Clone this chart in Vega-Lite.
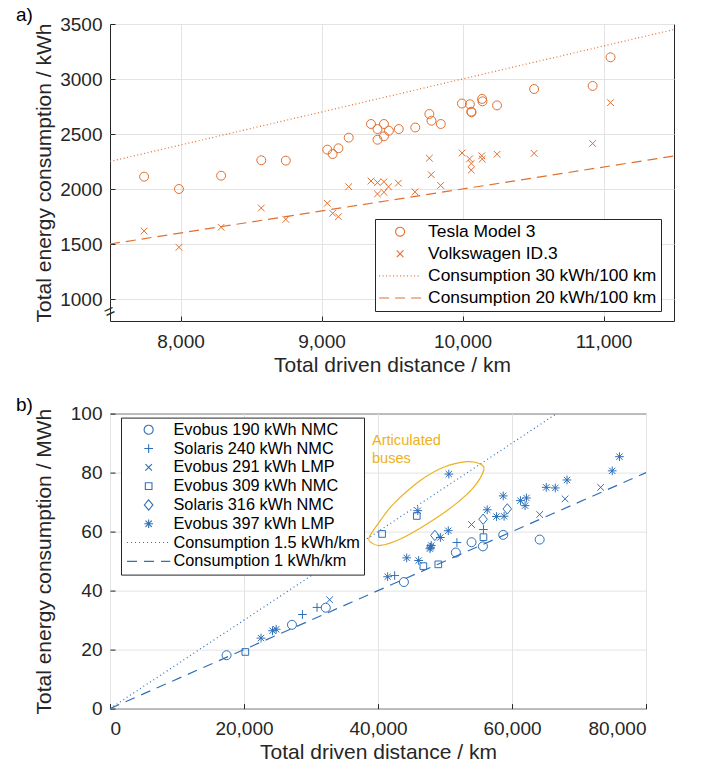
{
  "$schema": "https://vega.github.io/schema/vega-lite/v6.json",
  "padding": {"left": 15, "top": 5, "right": 5, "bottom": 2},
  "spacing": 18.6,
  "resolve": {"scale": {"shape": "independent", "strokeDash": "independent"}, "legend": {"shape": "independent", "strokeDash": "independent"}},
  "config": {
    "font": "Liberation Sans",
    "view": {"stroke": "#262626", "strokeWidth": 1},
    "axis": {"grid": true, "gridColor": "#E3E3E3", "gridWidth": 1, "domain": false, "ticks": true, "tickSize": -5, "tickColor": "#262626", "labelFontSize": 19, "labelColor": "#262626", "titleFontSize": 21, "titleFontWeight": "normal", "titleColor": "#262626"},
    "axisY": {"minExtent": 48, "maxExtent": 48, "titlePadding": 8, "labelPadding": 13},
    "axisX": {"titlePadding": 3, "labelPadding": 16},
    "legend": {"labelLimit": 400},
    "title": {"fontSize": 19, "fontWeight": "normal", "anchor": "start", "frame": "group", "dx": -94, "color": "#000000", "offset": -10}
  },
  "datasets": {
    "aPoints": [
      {"s": "Tesla Model 3", "d": 7742, "e": 2112}, {"s": "Tesla Model 3", "d": 7989, "e": 2000}, {"s": "Tesla Model 3", "d": 8288, "e": 2121}, {"s": "Tesla Model 3", "d": 8573, "e": 2261}, {"s": "Tesla Model 3", "d": 8747, "e": 2258},
      {"s": "Tesla Model 3", "d": 9041, "e": 2358}, {"s": "Tesla Model 3", "d": 9079, "e": 2318}, {"s": "Tesla Model 3", "d": 9120, "e": 2370}, {"s": "Tesla Model 3", "d": 9193, "e": 2467}, {"s": "Tesla Model 3", "d": 9351, "e": 2591},
      {"s": "Tesla Model 3", "d": 9397, "e": 2545}, {"s": "Tesla Model 3", "d": 9443, "e": 2591}, {"s": "Tesla Model 3", "d": 9397, "e": 2448}, {"s": "Tesla Model 3", "d": 9443, "e": 2479}, {"s": "Tesla Model 3", "d": 9478, "e": 2530},
      {"s": "Tesla Model 3", "d": 9548, "e": 2545}, {"s": "Tesla Model 3", "d": 9665, "e": 2559}, {"s": "Tesla Model 3", "d": 9765, "e": 2682}, {"s": "Tesla Model 3", "d": 9780, "e": 2621}, {"s": "Tesla Model 3", "d": 9846, "e": 2591},
      {"s": "Tesla Model 3", "d": 9996, "e": 2777}, {"s": "Tesla Model 3", "d": 10052, "e": 2770}, {"s": "Tesla Model 3", "d": 10062, "e": 2703}, {"s": "Tesla Model 3", "d": 10064, "e": 2697}, {"s": "Tesla Model 3", "d": 10139, "e": 2819},
      {"s": "Tesla Model 3", "d": 10142, "e": 2797}, {"s": "Tesla Model 3", "d": 10245, "e": 2760}, {"s": "Tesla Model 3", "d": 10508, "e": 2909}, {"s": "Tesla Model 3", "d": 10923, "e": 2937}, {"s": "Tesla Model 3", "d": 11050, "e": 3197},
      {"s": "Volkswagen ID.3", "d": 7742, "e": 1618}, {"s": "Volkswagen ID.3", "d": 7989, "e": 1470}, {"s": "Volkswagen ID.3", "d": 8288, "e": 1652}, {"s": "Volkswagen ID.3", "d": 8573, "e": 1827}, {"s": "Volkswagen ID.3", "d": 8747, "e": 1724},
      {"s": "Volkswagen ID.3", "d": 9041, "e": 1870}, {"s": "Volkswagen ID.3", "d": 9079, "e": 1779}, {"s": "Volkswagen ID.3", "d": 9120, "e": 1748}, {"s": "Volkswagen ID.3", "d": 9193, "e": 2021}, {"s": "Volkswagen ID.3", "d": 9351, "e": 2073},
      {"s": "Volkswagen ID.3", "d": 9397, "e": 2058}, {"s": "Volkswagen ID.3", "d": 9443, "e": 2066}, {"s": "Volkswagen ID.3", "d": 9397, "e": 1955}, {"s": "Volkswagen ID.3", "d": 9443, "e": 1970}, {"s": "Volkswagen ID.3", "d": 9475, "e": 2020},
      {"s": "Volkswagen ID.3", "d": 9545, "e": 2053}, {"s": "Volkswagen ID.3", "d": 9663, "e": 1974}, {"s": "Volkswagen ID.3", "d": 9765, "e": 2280}, {"s": "Volkswagen ID.3", "d": 9778, "e": 2130}, {"s": "Volkswagen ID.3", "d": 9845, "e": 2032},
      {"s": "Volkswagen ID.3", "d": 9997, "e": 2328}, {"s": "Volkswagen ID.3", "d": 10050, "e": 2274}, {"s": "Volkswagen ID.3", "d": 10062, "e": 2232}, {"s": "Volkswagen ID.3", "d": 10062, "e": 2172}, {"s": "Volkswagen ID.3", "d": 10137, "e": 2302},
      {"s": "Volkswagen ID.3", "d": 10140, "e": 2272}, {"s": "Volkswagen ID.3", "d": 10245, "e": 2316}, {"s": "Volkswagen ID.3", "d": 10508, "e": 2324}, {"s": "Volkswagen ID.3", "d": 10923, "e": 2414}, {"s": "Volkswagen ID.3", "d": 11050, "e": 2785}
    ],
    "aLines": [
      {"s": "Consumption 30 kWh/100 km", "d": 7500, "e": 2250}, {"s": "Consumption 30 kWh/100 km", "d": 11500, "e": 3450},
      {"s": "Consumption 20 kWh/100 km", "d": 7500, "e": 1500}, {"s": "Consumption 20 kWh/100 km", "d": 11500, "e": 2300}
    ],
    "aBreak": [{"d": 7500, "e": 880, "t": "="}],
    "bPoints": [
      {"s": "Evobus 190 kWh NMC", "d": 17400, "e": 18.1}, {"s": "Evobus 190 kWh NMC", "d": 27160, "e": 28.4}, {"s": "Evobus 190 kWh NMC", "d": 32200, "e": 34.2}, {"s": "Evobus 190 kWh NMC", "d": 43870, "e": 42.9}, {"s": "Evobus 190 kWh NMC", "d": 51620, "e": 52.9},
      {"s": "Evobus 190 kWh NMC", "d": 53960, "e": 56.4}, {"s": "Evobus 190 kWh NMC", "d": 55660, "e": 55.0}, {"s": "Evobus 190 kWh NMC", "d": 58690, "e": 58.9}, {"s": "Evobus 190 kWh NMC", "d": 64130, "e": 57.3},
      {"s": "Solaris 240 kWh NMC", "d": 28720, "e": 31.9}, {"s": "Solaris 240 kWh NMC", "d": 30900, "e": 34.3}, {"s": "Solaris 240 kWh NMC", "d": 42490, "e": 45.1}, {"s": "Solaris 240 kWh NMC", "d": 51780, "e": 56.3}, {"s": "Solaris 240 kWh NMC", "d": 55740, "e": 60.7},
      {"s": "Evobus 291 kWh LMP", "d": 32780, "e": 36.9}, {"s": "Evobus 291 kWh LMP", "d": 53960, "e": 62.4}, {"s": "Evobus 291 kWh LMP", "d": 64130, "e": 65.8}, {"s": "Evobus 291 kWh LMP", "d": 67920, "e": 71.1}, {"s": "Evobus 291 kWh LMP", "d": 73230, "e": 75.0},
      {"s": "Evobus 309 kWh NMC", "d": 20200, "e": 19.2}, {"s": "Evobus 309 kWh NMC", "d": 40610, "e": 59.2}, {"s": "Evobus 309 kWh NMC", "d": 45790, "e": 65.3}, {"s": "Evobus 309 kWh NMC", "d": 46770, "e": 48.3}, {"s": "Evobus 309 kWh NMC", "d": 49000, "e": 48.9}, {"s": "Evobus 309 kWh NMC", "d": 55740, "e": 58.1},
      {"s": "Solaris 316 kWh NMC", "d": 48490, "e": 58.7}, {"s": "Solaris 316 kWh NMC", "d": 55690, "e": 64.2}, {"s": "Solaris 316 kWh NMC", "d": 59300, "e": 67.7},
      {"s": "Evobus 397 kWh LMP", "d": 22540, "e": 23.9}, {"s": "Evobus 397 kWh LMP", "d": 24260, "e": 26.4}, {"s": "Evobus 397 kWh LMP", "d": 24800, "e": 26.9}, {"s": "Evobus 397 kWh LMP", "d": 41440, "e": 44.7}, {"s": "Evobus 397 kWh LMP", "d": 44280, "e": 51.1},
      {"s": "Evobus 397 kWh LMP", "d": 46070, "e": 50.2}, {"s": "Evobus 397 kWh LMP", "d": 45940, "e": 67.1}, {"s": "Evobus 397 kWh LMP", "d": 47850, "e": 54.7}, {"s": "Evobus 397 kWh LMP", "d": 47950, "e": 55.3}, {"s": "Evobus 397 kWh LMP", "d": 47750, "e": 54.2},
      {"s": "Evobus 397 kWh LMP", "d": 49310, "e": 58.0}, {"s": "Evobus 397 kWh LMP", "d": 50490, "e": 60.3}, {"s": "Evobus 397 kWh LMP", "d": 50570, "e": 79.5}, {"s": "Evobus 397 kWh LMP", "d": 56300, "e": 67.4}, {"s": "Evobus 397 kWh LMP", "d": 57680, "e": 65.1},
      {"s": "Evobus 397 kWh LMP", "d": 58690, "e": 72.1}, {"s": "Evobus 397 kWh LMP", "d": 58820, "e": 65.2}, {"s": "Evobus 397 kWh LMP", "d": 61260, "e": 70.5}, {"s": "Evobus 397 kWh LMP", "d": 62160, "e": 71.4}, {"s": "Evobus 397 kWh LMP", "d": 61950, "e": 68.8},
      {"s": "Evobus 397 kWh LMP", "d": 65110, "e": 75.0}, {"s": "Evobus 397 kWh LMP", "d": 66460, "e": 74.8}, {"s": "Evobus 397 kWh LMP", "d": 68210, "e": 77.5}, {"s": "Evobus 397 kWh LMP", "d": 74960, "e": 80.6}, {"s": "Evobus 397 kWh LMP", "d": 76040, "e": 85.4}
    ],
    "bLines": [
      {"s": "Consumption 1.5 kWh/km", "d": 0, "e": 0}, {"s": "Consumption 1.5 kWh/km", "d": 66667, "e": 100},
      {"s": "Consumption 1 kWh/km", "d": 0, "e": 0}, {"s": "Consumption 1 kWh/km", "d": 80000, "e": 80}
    ],
    "bEllipse": [
      {"i": 0, "d": 38700, "e": 58.1}, {"i": 1, "d": 40343, "e": 63.7}, {"i": 2, "d": 42333, "e": 69.4}, {"i": 3, "d": 46313, "e": 77.3}, {"i": 4, "d": 49791, "e": 81.8},
      {"i": 5, "d": 53284, "e": 83.7}, {"i": 6, "d": 55269, "e": 82.9}, {"i": 7, "d": 55761, "e": 80.7}, {"i": 8, "d": 54269, "e": 75.0}, {"i": 9, "d": 51284, "e": 68.8},
      {"i": 10, "d": 47313, "e": 62.6}, {"i": 11, "d": 43328, "e": 57.5}, {"i": 12, "d": 40343, "e": 55.3}, {"i": 13, "d": 39000, "e": 56.3}
    ],
    "bText": [
      {"d": 39100, "e": 89.4, "t": "Articulated"}, {"d": 39100, "e": 83.2, "t": "buses"}
    ]
  },
  "vconcat": [
    {
      "title": {"text": "a)"},
      "width": 564,
      "height": 297,
      "layer": [
        {
          "data": {"name": "aPoints"},
          "mark": {"type": "point", "filled": false, "opacity": 1, "strokeWidth": 1, "color": "#E26F2E", "size": 80},
          "encoding": {
            "x": {"field": "d", "type": "quantitative", "scale": {"domain": [7500, 11500], "nice": false, "zero": false}, "axis": {"values": [8000, 9000, 10000, 11000], "format": ",d", "title": "Total driven distance / km"}},
            "y": {"field": "e", "type": "quantitative", "scale": {"domain": [800, 3500], "nice": false, "zero": false}, "axis": {"values": [1000, 1500, 2000, 2500, 3000, 3500], "format": "d", "title": "Total energy consumption / kWh"}},
            "shape": {"field": "s", "type": "nominal",
              "scale": {"domain": ["Tesla Model 3", "Volkswagen ID.3", "Consumption 30 kWh/100 km", "Consumption 20 kWh/100 km"],
                "range": ["circle", "M-0.75,-0.75L0.75,0.75M-0.75,0.75L0.75,-0.75", "M-4.7,0H4.7", "M-4.7,0H4.7"]},
              "legend": {"orient": "none", "legendX": 265, "legendY": 195, "title": null, "labelFontSize": 17.4, "labelColor": "#000000", "labelLimit": 400, "rowPadding": 3.1, "symbolOffset": 12.4, "labelOffset": 19.3, "padding": 4, "symbolSize": 80, "strokeColor": "#262626", "fillColor": "#ffffff", "symbolStrokeColor": "#E26F2E", "symbolStrokeWidth": 1.1, "symbolFillColor": "transparent"}
            }
          }
        },
        {
          "data": {"name": "aLines"},
          "mark": {"type": "line", "color": "#E26F2E", "strokeWidth": 1.2},
          "encoding": {
            "x": {"field": "d", "type": "quantitative"},
            "y": {"field": "e", "type": "quantitative"},
            "strokeDash": {"field": "s", "type": "nominal",
              "scale": {"domain": ["Tesla Model 3", "Volkswagen ID.3", "Consumption 30 kWh/100 km", "Consumption 20 kWh/100 km"],
                "range": [[1, 0], [1, 0], [1, 2.5], [10, 6]]},
              "legend": {"orient": "none", "legendX": 265, "legendY": 195, "title": null, "labelFontSize": 17.4, "labelColor": "#000000", "labelLimit": 400, "rowPadding": 3.1, "symbolOffset": 12.4, "labelOffset": 19.3, "padding": 4, "symbolSize": 80, "strokeColor": "#262626", "fillColor": "#ffffff", "symbolStrokeColor": "#E26F2E", "symbolStrokeWidth": 1.1, "symbolFillColor": "transparent"}
            }
          }
        },
        {
          "data": {"name": "aBreak"},
          "mark": {"type": "text", "angle": -25, "fontSize": 18, "color": "#262626", "align": "center", "baseline": "middle"},
          "encoding": {
            "x": {"field": "d", "type": "quantitative"},
            "y": {"field": "e", "type": "quantitative"},
            "text": {"field": "t"}
          }
        }
      ]
    },
    {
      "title": {"text": "b)"},
      "width": 536,
      "height": 295,
      "layer": [
        {
          "data": {"name": "bPoints"},
          "mark": {"type": "point", "filled": false, "opacity": 1, "strokeWidth": 1, "color": "#2F6FB8", "size": 81},
          "encoding": {
            "x": {"field": "d", "type": "quantitative", "scale": {"domain": [0, 80000], "nice": false}, "axis": {"values": [0, 20000, 40000, 60000, 80000], "format": ",d", "title": "Total driven distance / km"}},
            "y": {"field": "e", "type": "quantitative", "scale": {"domain": [0, 100], "nice": false}, "axis": {"values": [0, 20, 40, 60, 80, 100], "format": "d", "title": "Total energy consumption / MWh"}},
            "shape": {"field": "s", "type": "nominal",
              "scale": {"domain": ["Evobus 190 kWh NMC", "Solaris 240 kWh NMC", "Evobus 291 kWh LMP", "Evobus 309 kWh NMC", "Solaris 316 kWh NMC", "Evobus 397 kWh LMP", "Consumption 1.5 kWh/km", "Consumption 1 kWh/km"],
                "range": ["circle", "M-0.97,0H0.97M0,-0.97V0.97", "M-0.74,-0.74L0.74,0.74M-0.74,0.74L0.74,-0.74", "M-0.74,-0.74H0.74V0.74H-0.74Z", "M0,-1.15L0.95,0L0,1.15L-0.95,0Z", "M-0.97,0H0.97M0,-0.97V0.97M-0.7,-0.7L0.7,0.7M-0.7,0.7L0.7,-0.7", "M-4.8,0H4.8", "M-4.8,0H4.8"]},
              "legend": {"orient": "none", "legendX": 11, "legendY": 4, "title": null, "labelFontSize": 16.3, "labelColor": "#000000", "labelLimit": 400, "rowPadding": 1.8, "symbolOffset": 15.5, "labelOffset": 16.7, "padding": 4, "symbolSize": 81, "strokeColor": "#262626", "fillColor": "#ffffff", "symbolStrokeColor": "#2F6FB8", "symbolStrokeWidth": 1.1, "symbolFillColor": "transparent"}
            }
          }
        },
        {
          "data": {"name": "bLines"},
          "mark": {"type": "line", "color": "#2F6FB8", "strokeWidth": 1.2},
          "encoding": {
            "x": {"field": "d", "type": "quantitative"},
            "y": {"field": "e", "type": "quantitative"},
            "strokeDash": {"field": "s", "type": "nominal",
              "scale": {"domain": ["Evobus 190 kWh NMC", "Solaris 240 kWh NMC", "Evobus 291 kWh LMP", "Evobus 309 kWh NMC", "Solaris 316 kWh NMC", "Evobus 397 kWh LMP", "Consumption 1.5 kWh/km", "Consumption 1 kWh/km"],
                "range": [[1, 0], [1, 0], [1, 0], [1, 0], [1, 0], [1, 0], [1, 3], [10, 7]]},
              "legend": {"orient": "none", "legendX": 11, "legendY": 4, "title": null, "labelFontSize": 16.3, "labelColor": "#000000", "labelLimit": 400, "rowPadding": 1.8, "symbolOffset": 15.5, "labelOffset": 16.7, "padding": 4, "symbolSize": 81, "strokeColor": "#262626", "fillColor": "#ffffff", "symbolStrokeColor": "#2F6FB8", "symbolStrokeWidth": 1.1, "symbolFillColor": "transparent"}
            }
          }
        },
        {
          "data": {"name": "bEllipse"},
          "mark": {"type": "line", "color": "#EDB120", "strokeWidth": 1.2, "interpolate": "cardinal-closed"},
          "encoding": {
            "x": {"field": "d", "type": "quantitative"},
            "y": {"field": "e", "type": "quantitative"},
            "order": {"field": "i", "type": "quantitative"}
          }
        },
        {
          "data": {"name": "bText"},
          "mark": {"type": "text", "fontSize": 14.6, "color": "#EDB120", "align": "left", "baseline": "alphabetic"},
          "encoding": {
            "x": {"field": "d", "type": "quantitative"},
            "y": {"field": "e", "type": "quantitative"},
            "text": {"field": "t"}
          }
        }
      ]
    }
  ]
}
